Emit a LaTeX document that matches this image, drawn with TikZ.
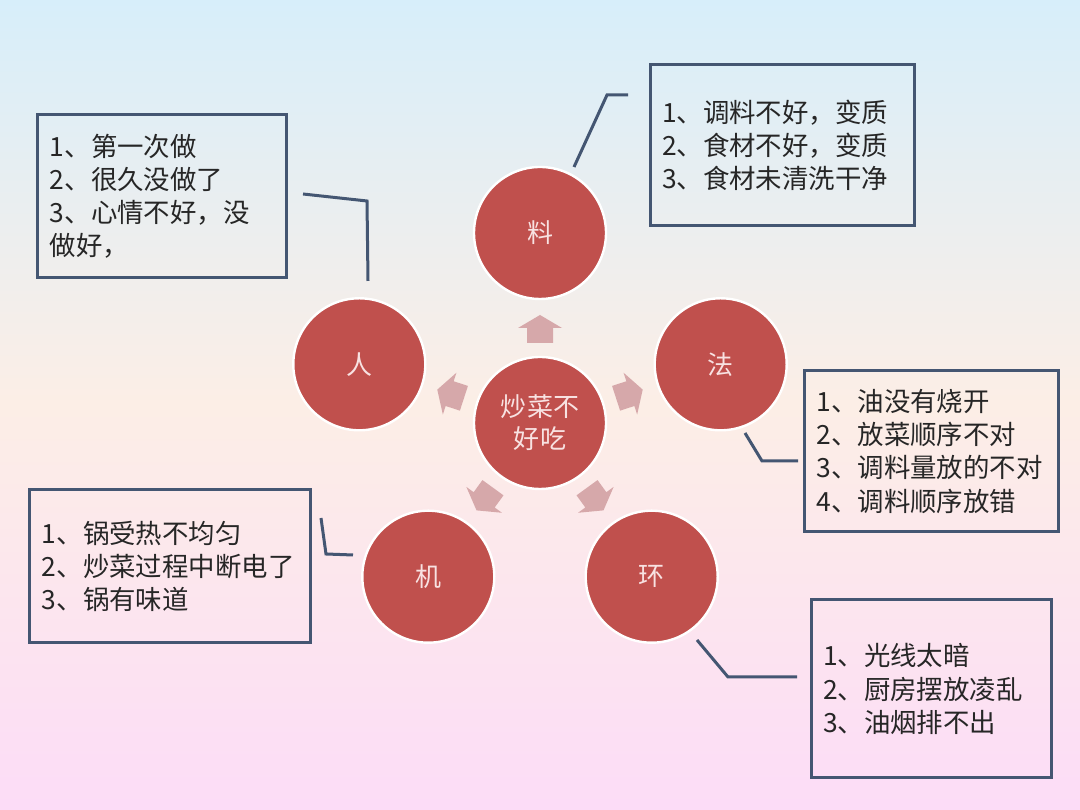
\documentclass[tikz,border=0pt]{standalone}
\usepackage{fontspec}
\setmainfont{Noto Sans CJK SC}
\usetikzlibrary{positioning,calc}
\definecolor{causered}{RGB}{192,80,77}
\definecolor{labelpink}{RGB}{248,226,226}
\definecolor{boxline}{RGB}{68,86,114}
\definecolor{arrowpink}{RGB}{214,168,170}
\definecolor{bgtop}{RGB}{215,238,250}
\definecolor{bgmid}{RGB}{252,238,230}
\definecolor{bgbot}{RGB}{252,220,247}

\tikzset{
  cause/.style={circle, fill=causered, draw=white, line width=0.6mm, minimum size=33mm,
    inner sep=0pt, text=labelpink, align=center, font=\fontsize{18.5}{22.8}\selectfont},
  reasonbox/.style={draw=boxline, line width=0.75mm, inner xsep=3mm, align=left,
    text=black!85, font=\fontsize{18.8}{23.5}\selectfont},
  leader/.style={draw=boxline, line width=0.75mm}
}

\begin{document}
\begin{tikzpicture}[x=0.25mm, y=0.25mm]

% Background
\shade[top color=bgtop, bottom color=bgbot, middle color=bgmid] (0,0) rectangle (1080,810);
\useasboundingbox (0,0) rectangle (1080,810);

% Centre and the five causes
\node[cause] (core) at (540,387) {炒菜不\\好吃};
\node[cause] (liao) at (540,577) {料};
\node[cause] (fa) at (720.7,445.7) {法};
\node[cause] (ren) at (359.3,445.7) {人};
\node[cause] (ji) at (428.3,233.3) {机};
\node[cause] (huan) at (651.7,233.3) {环};

% Block arrows pointing outwards
\foreach \a in {90,18,162,234,306}
  \fill[arrowpink, shift={(core.center)}, rotate=\a]
    (80,-13) -- (95,-13) -- (95,-22) -- (108,0) -- (95,22) -- (95,13) -- (80,13) -- cycle;

% Reason boxes
\node[reasonbox, minimum width=62mm, minimum height=40.75mm, text width=56mm] (renbox) at (162,613.5)
  {1、第一次做\\2、很久没做了\\3、心情不好，没\\做好，};
\node[reasonbox, minimum width=66mm, minimum height=40.25mm, text width=60mm] (liaobox) at (782,664.5)
  {1、调料不好，变质\\2、食材不好，变质\\3、食材未清洗干净};
\node[reasonbox, minimum width=63.25mm, minimum height=40.25mm, text width=57.5mm] (fabox) at (931.5,358.5)
  {1、油没有烧开\\2、放菜顺序不对\\3、调料量放的不对\\4、调料顺序放错};
\node[reasonbox, minimum width=70mm, minimum height=38.25mm, text width=64mm] (jibox) at (170,243.5)
  {1、锅受热不均匀\\2、炒菜过程中断电了\\3、锅有味道};
\node[reasonbox, minimum width=59.5mm, minimum height=44.5mm, text width=54mm] (huanbox) at (931,121)
  {1、光线太暗\\2、厨房摆放凌乱\\3、油烟排不出};

% Leader lines
\coordinate (ren-a) at (303,616);
\coordinate (ren-b) at (368,529);
\draw[leader] (ren-a) -- (367,609) -- (ren-b);
\coordinate (liao-a) at (574,643);
\coordinate (liao-b) at (628,715);
\draw[leader] (liao-a) -- (607,715) -- (liao-b);
\coordinate (fa-a) at (745,377);
\coordinate (fa-b) at (798,349);
\draw[leader] (fa-a) -- (762,349) -- (fa-b);
\coordinate (ji-a) at (321,292);
\coordinate (ji-b) at (353,255);
\draw[leader] (ji-a) -- (326,256) -- (ji-b);
\coordinate (huan-a) at (697,170);
\coordinate (huan-b) at (797,133);
\draw[leader] (huan-a) -- (728,133) -- (huan-b);

\end{tikzpicture}
\end{document}
